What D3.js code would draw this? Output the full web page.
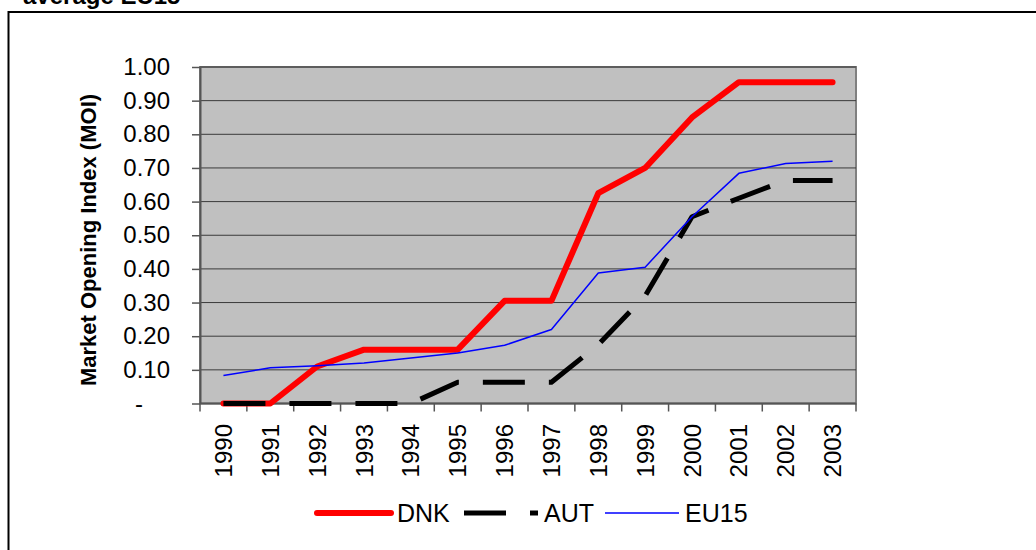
<!DOCTYPE html>
<html>
<head>
<meta charset="utf-8">
<script src="https://cdn.jsdelivr.net/npm/d3@7"></script>
<style>
  body { margin: 0; background: #fff; }
  svg text { font-family: "Liberation Sans", Arial, sans-serif; fill: #000; }
</style>
</head>
<body>
<svg width="1036" height="550"></svg>
<script>
//categories
var years = [1990, 1991, 1992, 1993, 1994, 1995, 1996, 1997, 1998, 1999, 2000, 2001, 2002, 2003];

//series values
var dnk = [0, 0, 0.11, 0.16, 0.16, 0.16, 0.305, 0.305, 0.625, 0.70, 0.85, 0.955, 0.955, 0.955];
var aut = [0, 0, 0, 0, 0, 0.063, 0.063, 0.063, 0.175, 0.32, 0.555, 0.61, 0.663, 0.663];
var eu15 = [0.083, 0.106, 0.112, 0.12, 0.135, 0.15, 0.173, 0.22, 0.388, 0.405, 0.555, 0.684, 0.713, 0.72];

//y tick values and labels
var yTicks = [0, 0.1, 0.2, 0.3, 0.4, 0.5, 0.6, 0.7, 0.8, 0.9, 1.0];
var yTickLabels = ["-", "0.10", "0.20", "0.30", "0.40", "0.50", "0.60", "0.70", "0.80", "0.90", "1.00"];

//legend
var seriesNames = ["DNK", "AUT", "EU15"];

var series = [
    {name: seriesNames[0], values: dnk, color: "#ff0000", width: 6, dash: null, cap: "round"},
    {name: seriesNames[1], values: aut, color: "#000000", width: 5, dash: "42,24", cap: "butt"},
    {name: seriesNames[2], values: eu15, color: "#0000ff", width: 1.5, dash: null, cap: "butt"}
];

var svg = d3.select("svg");

//plot area
var plot = {left: 200, right: 856, top: 67, bottom: 403.5};

var x = d3.scaleBand()
    .domain(years)
    .range([plot.left, plot.right]);
var y = d3.scaleLinear()
    .domain([0, 1])
    .range([plot.bottom, plot.top]);

//title, cut off by the top edge like in the original
svg.append("text")
    .attr("x", 23)
    .attr("y", 4)
    .style("font-size", "24px")
    .style("font-weight", "bold")
    .text("average EU15");

//outer frame (runs off right and bottom)
svg.append("rect")
    .attr("x", 8.5)
    .attr("y", 12)
    .attr("width", 1060)
    .attr("height", 600)
    .attr("fill", "none")
    .attr("stroke", "#000")
    .attr("stroke-width", 2);

//plot background
svg.append("rect")
    .attr("x", plot.left)
    .attr("y", plot.top)
    .attr("width", plot.right - plot.left)
    .attr("height", plot.bottom - plot.top)
    .attr("fill", "#c0c0c0")
    .attr("stroke", "#808080")
    .attr("stroke-width", 2);

//gridlines
svg.append("g")
    .selectAll("line")
    .data(yTicks.slice(1))
    .enter().append("line")
    .attr("x1", plot.left)
    .attr("x2", plot.right)
    .attr("y1", d => y(d))
    .attr("y2", d => y(d))
    .attr("stroke", "#3a3a3a")
    .attr("stroke-width", 1);

//y axis
var axisY = d3.axisLeft(y)
    .tickValues(yTicks)
    .tickFormat((d, i) => yTickLabels[i])
    .tickSizeInner(8)
    .tickSizeOuter(0)
    .tickPadding(22);
var gY = svg.append("g")
    .attr("transform", "translate(" + plot.left + ",0)")
    .call(axisY);
gY.select(".domain").attr("stroke", "#555").attr("stroke-width", 2);
gY.selectAll(".tick line").attr("stroke", "#555").attr("stroke-width", 1.5);
gY.selectAll(".tick text")
    .style("font-size", "24px")
    .attr("font-family", null)
    .attr("dx", (d, i) => i === 0 ? -27 : 0);

//x axis: ticks sit on the category borders
var gX = svg.append("g");
gX.append("line")
    .attr("x1", plot.left)
    .attr("x2", plot.right)
    .attr("y1", plot.bottom)
    .attr("y2", plot.bottom)
    .attr("stroke", "#555")
    .attr("stroke-width", 2);
gX.selectAll("line.tick")
    .data(years.map(d => x(d)).concat([plot.right]))
    .enter().append("line")
    .attr("class", "tick")
    .attr("x1", d => d)
    .attr("x2", d => d)
    .attr("y1", plot.bottom)
    .attr("y2", plot.bottom + 8)
    .attr("stroke", "#555")
    .attr("stroke-width", 1.5);
gX.selectAll("text")
    .data(years)
    .enter().append("text")
    .attr("transform", d => "translate(" + (x(d) + x.bandwidth() / 2) + "," + 424 + ") rotate(-90)")
    .attr("text-anchor", "end")
    .attr("dy", "0.36em")
    .style("font-size", "24px")
    .text(d => d);

//y title
svg.append("text")
    .attr("transform", "translate(" + 96 + "," + 240 + ") rotate(-90)")
    .attr("text-anchor", "middle")
    .style("font-size", "22px")
    .style("font-weight", "bold")
    .text("Market Opening Index (MOI)");

//lines
var line = d3.line()
    .x((d, i) => x(years[i]) + x.bandwidth() / 2)
    .y(d => y(d));

svg.append("g")
    .selectAll("path")
    .data(series)
    .enter().append("path")
    .attr("d", d => line(d.values))
    .attr("fill", "none")
    .attr("stroke", d => d.color)
    .attr("stroke-width", d => d.width)
    .attr("stroke-dasharray", d => d.dash)
    .attr("stroke-linecap", d => d.cap)
    .attr("stroke-linejoin", "round");

//legend
var legendX = [317, 464, 605],
    legendY = 513,
    legendLen = 74;
var gLegend = svg.append("g");
var items = gLegend.selectAll("g")
    .data(series)
    .enter().append("g")
    .attr("transform", (d, i) => "translate(" + legendX[i] + "," + legendY + ")");
items.append("line")
    .attr("x1", 0)
    .attr("x2", legendLen)
    .attr("stroke", d => d.color)
    .attr("stroke-width", d => d.width)
    .attr("stroke-dasharray", d => d.dash)
    .attr("stroke-linecap", d => d.cap);
items.append("text")
    .attr("x", legendLen + 6)
    .attr("dy", "0.36em")
    .style("font-size", "25px")
    .text(d => d.name);
</script>
</body>
</html>
